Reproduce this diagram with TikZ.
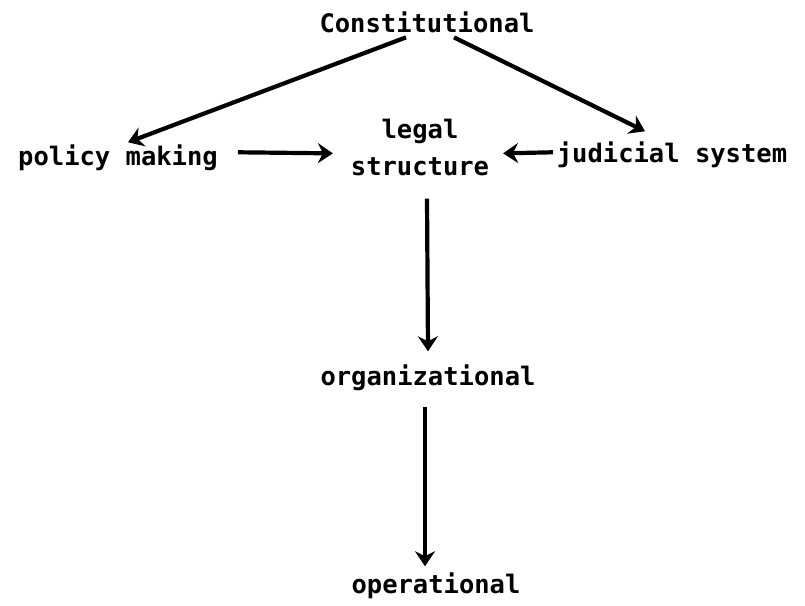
\documentclass[tikz,border=0pt]{standalone}
\usepackage{fontspec}
\setmonofont{DejaVu Sans Mono}
\usetikzlibrary{arrows.meta}

\begin{document}
\begin{tikzpicture}[x=1pt,y=-1pt,
	every node/.style={inner sep=0,outer sep=0,anchor=base,font=\ttfamily\bfseries\fontsize{25.5}{37}\selectfont},
	arr/.style={line width=4.2pt,-{Stealth[length=15pt,width=20pt,inset=5pt]}}]
	\useasboundingbox (0,0) rectangle (805,605);
	\node (con) at (427,32) {Constitutional};
	\node (pol) at (118,165) {policy making};
	\node[align=center,anchor=north] (leg) at (420,119) {legal\\structure};
	\node (jud) at (672,162) {judicial system};
	\node (org) at (428,385) {organizational};
	\node (op) at (436,593) {operational};
	\draw[arr] ([xshift=-21pt,yshift=-5pt]con.south) -- ([xshift=10pt,yshift=2pt]pol.north);
	\draw[arr] ([xshift=27pt,yshift=-5pt]con.south) -- ([xshift=-27pt,yshift=10pt]jud.north);
	\draw[arr] ([xshift=20pt,yshift=5pt]pol.east) -- ([xshift=-18pt,yshift=-6pt]leg.west);
	\draw[arr] ([xshift=-4pt,yshift=2pt]jud.west) -- ([xshift=14pt,yshift=-6pt]leg.east);
	\draw[arr] ([xshift=7pt,yshift=-23pt]leg.south) -- ([yshift=13pt]org.north);
	\draw[arr] ([xshift=-3pt,yshift=-17pt]org.south) -- ([xshift=-11pt,yshift=6pt]op.north);
\end{tikzpicture}
\end{document}
